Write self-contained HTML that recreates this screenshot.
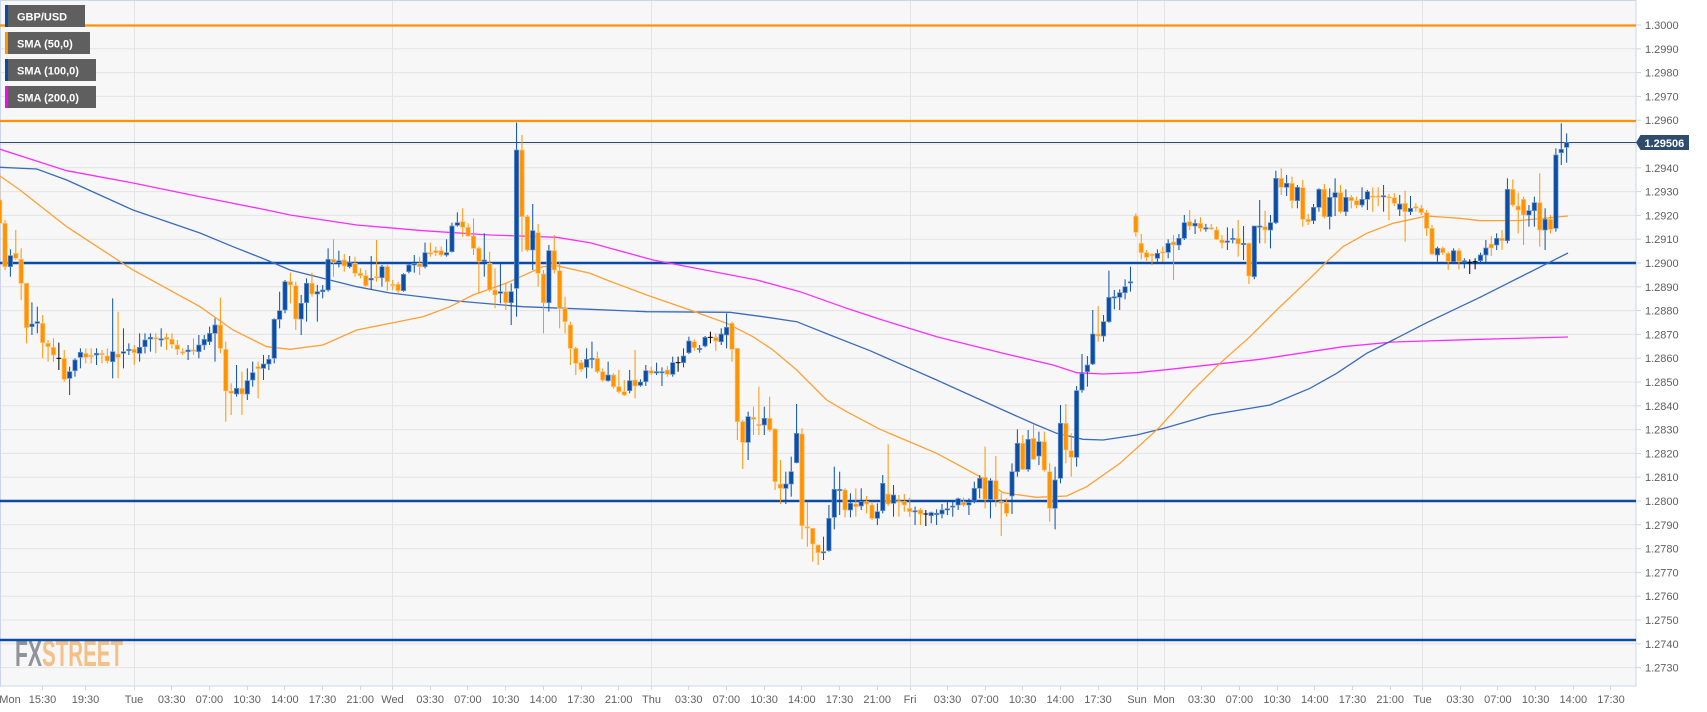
<!DOCTYPE html>
<html><head><meta charset="utf-8"><style>
html,body{margin:0;padding:0;background:#fff;}
svg{display:block;}
text{font-family:"Liberation Sans",Arial,sans-serif;}
</style></head><body>
<svg id="svg" xmlns="http://www.w3.org/2000/svg" width="1707" height="712" viewBox="0 0 1707 712">
<defs><clipPath id="clip"><rect x="0" y="0" width="1636" height="686"/></clipPath></defs>
<rect x="0" y="0" width="1707" height="712" fill="#fff"/>
<rect x="0.5" y="0.5" width="1635.5" height="685.5" fill="#f7f7f7" stroke="#ccd6eb" stroke-width="1"/>
<g stroke="#e4e4e4" stroke-width="1">
<line x1="1" x2="1636" y1="25" y2="25"/><line x1="1" x2="1636" y1="48.8" y2="48.8"/><line x1="1" x2="1636" y1="72.6" y2="72.6"/><line x1="1" x2="1636" y1="96.4" y2="96.4"/><line x1="1" x2="1636" y1="120.2" y2="120.2"/><line x1="1" x2="1636" y1="144" y2="144"/><line x1="1" x2="1636" y1="167.8" y2="167.8"/><line x1="1" x2="1636" y1="191.6" y2="191.6"/><line x1="1" x2="1636" y1="215.4" y2="215.4"/><line x1="1" x2="1636" y1="239.2" y2="239.2"/><line x1="1" x2="1636" y1="263" y2="263"/><line x1="1" x2="1636" y1="286.8" y2="286.8"/><line x1="1" x2="1636" y1="310.6" y2="310.6"/><line x1="1" x2="1636" y1="334.4" y2="334.4"/><line x1="1" x2="1636" y1="358.2" y2="358.2"/><line x1="1" x2="1636" y1="382" y2="382"/><line x1="1" x2="1636" y1="405.8" y2="405.8"/><line x1="1" x2="1636" y1="429.6" y2="429.6"/><line x1="1" x2="1636" y1="453.4" y2="453.4"/><line x1="1" x2="1636" y1="477.2" y2="477.2"/><line x1="1" x2="1636" y1="501" y2="501"/><line x1="1" x2="1636" y1="524.8" y2="524.8"/><line x1="1" x2="1636" y1="548.6" y2="548.6"/><line x1="1" x2="1636" y1="572.4" y2="572.4"/><line x1="1" x2="1636" y1="596.2" y2="596.2"/><line x1="1" x2="1636" y1="620" y2="620"/><line x1="1" x2="1636" y1="643.8" y2="643.8"/><line x1="1" x2="1636" y1="667.6" y2="667.6"/>
<line x1="134.5" x2="134.5" y1="1" y2="686"/><line x1="392.5" x2="392.5" y1="1" y2="686"/><line x1="651.5" x2="651.5" y1="1" y2="686"/><line x1="910.5" x2="910.5" y1="1" y2="686"/><line x1="1137.5" x2="1137.5" y1="1" y2="686"/><line x1="1164.5" x2="1164.5" y1="1" y2="686"/><line x1="1422.5" x2="1422.5" y1="1" y2="686"/>
</g>
<!-- watermark -->
<text x="15" y="666" font-size="36" font-weight="bold" fill="#8f939a" textLength="27" lengthAdjust="spacingAndGlyphs">FX</text>
<text x="42" y="666" font-size="36" font-weight="bold" fill="#f3c087" textLength="81" lengthAdjust="spacingAndGlyphs">STREET</text>
<!-- level lines -->
<g clip-path="url(#clip)">
<line x1="0" x2="1636" y1="25.5" y2="25.5" stroke="#ff9200" stroke-width="2.2"/>
<line x1="0" x2="1636" y1="121" y2="121" stroke="#ff9200" stroke-width="2.2"/>
<line x1="0" x2="1636" y1="142.5" y2="142.5" stroke="#2f4b6e" stroke-width="1.1"/>
<line x1="0" x2="1636" y1="263" y2="263" stroke="#0b4aa6" stroke-width="2.6"/>
<line x1="0" x2="1636" y1="501" y2="501" stroke="#0b4aa6" stroke-width="2.6"/>
<line x1="0" x2="1636" y1="640" y2="640" stroke="#0b4aa6" stroke-width="2.6"/>
<polyline fill="none" stroke="#ff2dff" stroke-width="1.3" points="0,149.3 66.7,170.7 133,183 200,196.7 266.7,210 290,215 356.7,225 423,230.7 490,235 556.7,237.3 590,242.7 653,260 756.7,280 800,291.7 846.7,308.3 880,319.3 936.7,336.7 1003,353.3 1053,365 1076.7,372.7 1103,374 1136.7,372.7 1170,369.3 1260,359.3 1343,346.7 1393,342 1480,339.3 1568,337"/>
<polyline fill="none" stroke="#3a6bbd" stroke-width="1.3" points="0,167.3 36.7,169 66.7,180 133,210 200,233 233,246.7 266.7,260 290,270 356.7,286.7 390,293 456.7,301 523,306.7 590,309.3 646.7,311.7 730,312.3 763,316.7 796.7,321.7 830,335 870,350.7 936.7,380 1003,410 1036.7,425 1056.7,433.3 1083,439.3 1103,440 1136.7,435 1165,428 1210,415 1270,405 1310,388.3 1336.7,373.3 1366.7,353.3 1393,340 1426.7,322.7 1480,297.3 1568,253"/>
<polyline fill="none" stroke="#ffa033" stroke-width="1.3" points="0,176 20,190 66.7,226.7 133,270 200,306.7 233,330 266.7,346.7 290,349.3 323,345 356.7,330 423,316.7 450,306.7 473,295 506.7,283 543,266.7 556.7,265.7 590,273.3 606.7,280 646.7,295 690,310 726.7,323.3 753,336.7 773,350 796.7,370 826.7,400 846.7,411.7 880,429.3 936.7,453.3 980,476.7 1003,492.7 1036.7,497.3 1066.7,496 1086.7,486.7 1120,463.3 1153,433.3 1160,426.7 1193,390 1220,363.3 1250,336.7 1276.7,310 1310,278.3 1326.7,261.7 1343,246.7 1366.7,233.3 1393,223.3 1426.7,216 1460,218.3 1480,220.7 1520,220.5 1568,216"/>
<g id="candles"></g>
</g>
<!-- legend -->
<rect x="5" y="5" width="80" height="22" fill="#5f5f5f"/><rect x="5" y="5" width="3" height="22" fill="#0b4aa6"/>
<text x="17" y="20.5" font-size="11" font-weight="bold" fill="#fff">GBP/USD</text>
<rect x="5" y="32" width="85" height="22" fill="#5f5f5f"/><rect x="5" y="32" width="3" height="22" fill="#ff9200"/>
<text x="17" y="47.5" font-size="11" font-weight="bold" fill="#fff">SMA (50,0)</text>
<rect x="5" y="59" width="91" height="22" fill="#5f5f5f"/><rect x="5" y="59" width="3" height="22" fill="#0b4aa6"/>
<text x="17" y="74.5" font-size="11" font-weight="bold" fill="#fff">SMA (100,0)</text>
<rect x="5" y="86" width="91" height="22" fill="#5f5f5f"/><rect x="5" y="86" width="3" height="22" fill="#ff00ff"/>
<text x="17" y="101.5" font-size="11" font-weight="bold" fill="#fff">SMA (200,0)</text>
<!-- y axis -->
<g stroke="#ccd6eb" stroke-width="1">
<line x1="1636" x2="1641" y1="25" y2="25"/><line x1="1636" x2="1641" y1="48.8" y2="48.8"/><line x1="1636" x2="1641" y1="72.6" y2="72.6"/><line x1="1636" x2="1641" y1="96.4" y2="96.4"/><line x1="1636" x2="1641" y1="120.2" y2="120.2"/><line x1="1636" x2="1641" y1="167.8" y2="167.8"/><line x1="1636" x2="1641" y1="191.6" y2="191.6"/><line x1="1636" x2="1641" y1="215.4" y2="215.4"/><line x1="1636" x2="1641" y1="239.2" y2="239.2"/><line x1="1636" x2="1641" y1="263" y2="263"/><line x1="1636" x2="1641" y1="286.8" y2="286.8"/><line x1="1636" x2="1641" y1="310.6" y2="310.6"/><line x1="1636" x2="1641" y1="334.4" y2="334.4"/><line x1="1636" x2="1641" y1="358.2" y2="358.2"/><line x1="1636" x2="1641" y1="382" y2="382"/><line x1="1636" x2="1641" y1="405.8" y2="405.8"/><line x1="1636" x2="1641" y1="429.6" y2="429.6"/><line x1="1636" x2="1641" y1="453.4" y2="453.4"/><line x1="1636" x2="1641" y1="477.2" y2="477.2"/><line x1="1636" x2="1641" y1="501" y2="501"/><line x1="1636" x2="1641" y1="524.8" y2="524.8"/><line x1="1636" x2="1641" y1="548.6" y2="548.6"/><line x1="1636" x2="1641" y1="572.4" y2="572.4"/><line x1="1636" x2="1641" y1="596.2" y2="596.2"/><line x1="1636" x2="1641" y1="620" y2="620"/><line x1="1636" x2="1641" y1="643.8" y2="643.8"/><line x1="1636" x2="1641" y1="667.6" y2="667.6"/>
</g>
<g font-size="11" fill="#606060">
<text x="1645" y="29">1.3000</text><text x="1645" y="52.8">1.2990</text><text x="1645" y="76.6">1.2980</text><text x="1645" y="100.4">1.2970</text><text x="1645" y="124.2">1.2960</text><text x="1645" y="171.8">1.2940</text><text x="1645" y="195.6">1.2930</text><text x="1645" y="219.4">1.2920</text><text x="1645" y="243.2">1.2910</text><text x="1645" y="267">1.2900</text><text x="1645" y="290.8">1.2890</text><text x="1645" y="314.6">1.2880</text><text x="1645" y="338.4">1.2870</text><text x="1645" y="362.2">1.2860</text><text x="1645" y="386">1.2850</text><text x="1645" y="409.8">1.2840</text><text x="1645" y="433.6">1.2830</text><text x="1645" y="457.4">1.2820</text><text x="1645" y="481.2">1.2810</text><text x="1645" y="505">1.2800</text><text x="1645" y="528.8">1.2790</text><text x="1645" y="552.6">1.2780</text><text x="1645" y="576.4">1.2770</text><text x="1645" y="600.2">1.2760</text><text x="1645" y="624">1.2750</text><text x="1645" y="647.8">1.2740</text><text x="1645" y="671.6">1.2730</text>
</g>
<polygon points="1636,142.5 1640.5,135 1689,135 1689,150 1640.5,150" fill="#2f4b6e"/>
<text x="1644.5" y="146.8" font-size="11" font-weight="bold" fill="#fff">1.29506</text>
<!-- x axis ticks -->
<g stroke="#ccd6eb" stroke-width="1">
<line x1="42.5" x2="42.5" y1="686" y2="690"/><line x1="85.5" x2="85.5" y1="686" y2="690"/><line x1="134.5" x2="134.5" y1="686" y2="690"/><line x1="171.5" x2="171.5" y1="686" y2="690"/><line x1="209.5" x2="209.5" y1="686" y2="690"/><line x1="247.5" x2="247.5" y1="686" y2="690"/><line x1="284.5" x2="284.5" y1="686" y2="690"/><line x1="322.5" x2="322.5" y1="686" y2="690"/><line x1="360.5" x2="360.5" y1="686" y2="690"/><line x1="392.5" x2="392.5" y1="686" y2="690"/><line x1="430.5" x2="430.5" y1="686" y2="690"/><line x1="467.5" x2="467.5" y1="686" y2="690"/><line x1="505.5" x2="505.5" y1="686" y2="690"/><line x1="543.5" x2="543.5" y1="686" y2="690"/><line x1="581.5" x2="581.5" y1="686" y2="690"/><line x1="618.5" x2="618.5" y1="686" y2="690"/><line x1="651.5" x2="651.5" y1="686" y2="690"/><line x1="688.5" x2="688.5" y1="686" y2="690"/><line x1="726.5" x2="726.5" y1="686" y2="690"/><line x1="764.5" x2="764.5" y1="686" y2="690"/><line x1="801.5" x2="801.5" y1="686" y2="690"/><line x1="839.5" x2="839.5" y1="686" y2="690"/><line x1="877.5" x2="877.5" y1="686" y2="690"/><line x1="910.5" x2="910.5" y1="686" y2="690"/><line x1="947.5" x2="947.5" y1="686" y2="690"/><line x1="985.5" x2="985.5" y1="686" y2="690"/><line x1="1022.5" x2="1022.5" y1="686" y2="690"/><line x1="1060.5" x2="1060.5" y1="686" y2="690"/><line x1="1098.5" x2="1098.5" y1="686" y2="690"/><line x1="1137.5" x2="1137.5" y1="686" y2="690"/><line x1="1164.5" x2="1164.5" y1="686" y2="690"/><line x1="1201.5" x2="1201.5" y1="686" y2="690"/><line x1="1239.5" x2="1239.5" y1="686" y2="690"/><line x1="1277.5" x2="1277.5" y1="686" y2="690"/><line x1="1314.5" x2="1314.5" y1="686" y2="690"/><line x1="1352.5" x2="1352.5" y1="686" y2="690"/><line x1="1390.5" x2="1390.5" y1="686" y2="690"/><line x1="1422.5" x2="1422.5" y1="686" y2="690"/><line x1="1460.5" x2="1460.5" y1="686" y2="690"/><line x1="1497.5" x2="1497.5" y1="686" y2="690"/><line x1="1535.5" x2="1535.5" y1="686" y2="690"/><line x1="1573.5" x2="1573.5" y1="686" y2="690"/><line x1="1610.5" x2="1610.5" y1="686" y2="690"/>
</g>
<g font-size="11" fill="#606060" text-anchor="middle">
<text x="10" y="703">Mon</text><text x="42.5" y="703">15:30</text><text x="85.5" y="703">19:30</text><text x="134" y="703">Tue</text><text x="171.7" y="703">03:30</text><text x="209.4" y="703">07:00</text><text x="247.1" y="703">10:30</text><text x="284.8" y="703">14:00</text><text x="322.5" y="703">17:30</text><text x="360.2" y="703">21:00</text><text x="392.5" y="703">Wed</text><text x="430.2" y="703">03:30</text><text x="467.9" y="703">07:00</text><text x="505.6" y="703">10:30</text><text x="543.3" y="703">14:00</text><text x="581" y="703">17:30</text><text x="618.7" y="703">21:00</text><text x="651.5" y="703">Thu</text><text x="688.7" y="703">03:30</text><text x="726.4" y="703">07:00</text><text x="764.1" y="703">10:30</text><text x="801.8" y="703">14:00</text><text x="839.5" y="703">17:30</text><text x="877.2" y="703">21:00</text><text x="910" y="703">Fri</text><text x="947.5" y="703">03:30</text><text x="985" y="703">07:00</text><text x="1022.6" y="703">10:30</text><text x="1060.3" y="703">14:00</text><text x="1098" y="703">17:30</text><text x="1137" y="703">Sun</text><text x="1164" y="703">Mon</text><text x="1201.7" y="703">03:30</text><text x="1239.4" y="703">07:00</text><text x="1277.1" y="703">10:30</text><text x="1314.8" y="703">14:00</text><text x="1352.5" y="703">17:30</text><text x="1390.2" y="703">21:00</text><text x="1422.5" y="703">Tue</text><text x="1460.2" y="703">03:30</text><text x="1497.9" y="703">07:00</text><text x="1535.6" y="703">10:30</text><text x="1573.3" y="703">14:00</text><text x="1611" y="703">17:30</text>
</g>
</svg>
<script>
(function(){
var S=[
[100,0,"o,300,370,220,370 o,370,500,360,510 b,467,500,448,530 o,460,475,390,480 o,478,550,445,600 o,550,683,550,730 b,672,680,607,705 b,665,670,620,700 o,670,728,645,775 o,730,740,720,785 o,742,765,715,785 k,775,775,728,810 o,775,838,750,845 b,815,835,800,885 b,780,812,775,830 b,757,772,745,805 o,760,772,745,790 o,766,770,745,790 b,760,765,745,795 o,760,764,750,790 o,768,783,745,790 b,755,785,595,835 o,762,772,635,835 b,755,760,685,805 b,748,752,730,765 o,748,758,735,795 b,742,760,700,785 b,720,740,700,760 b,712,717,700,755 o,713,717,700,760 b,716,720,685,740 o,712,718,700,750 o,718,733,700,745 o,735,748,720,765 o,755,759,745,765 b,750,755,735,780 o,750,754,715,765 b,735,755,705,775 b,718,735,705,750 b,700,725,680,735 b,675,700,655,785 o,675,745,593,760 o,748,873,725,965 o,873,880,850,945 b,865,882,795,890 o,865,882,815,945 b,842,882,805,900 b,818,840,785,860 o,800,806,785,895 b,792,805,765,840 b,778,792,765,810 b,658,775,655,790 b,632,658,575,685 b,545,630,540,640 o,545,555,518,610 o,557,657,545,690"],
[100,56,"b,610,657,585,705 b,550,608,535,665 o,550,582,518,590 b,575,582,555,665 b,570,575,555,595 b,478,570,445,575 o,478,487,418,530 b,482,487,452,502 o,480,498,462,515 b,488,500,468,505 o,490,520,470,530 o,520,527,505,535 o,527,557,510,560 b,535,540,468,570 o,530,533,420,545 b,500,533,495,560 o,500,545,495,572 o,553,556,540,570 o,553,572,545,580 b,523,572,520,575 b,495,515,492,520 b,490,495,465,518 o,490,500,470,525 b,458,500,428,505 o,458,462,428,470 o,452,458,440,468 o,452,465,440,470 b,458,465,418,470 b,378,455,368,457 b,368,376,337,380 o,365,382,325,410 o,382,408,370,410 o,408,445,355,465 o,445,485,440,580 b,480,485,400,530 o,490,570,455,575 o,570,585,505,625 b,575,580,490,610 o,575,608,550,630 b,575,608,550,675 b,150,565,68,650 o,150,350,105,455 o,350,450,345,455 b,392,450,312,510 o,398,520,372,560 o,522,608,510,700 b,452,608,435,635 o,452,510,405,520 o,512,625,485,685 o,625,665,590,700 o,675,745,665,795 o,745,790,740,825"],
[280,108,"o,248,268,240,275 b,238,262,205,295 b,235,238,185,265 o,235,275,215,280 o,275,300,265,305 b,285,302,245,305 o,285,320,280,325 o,320,335,270,340 o,335,345,300,348 b,302,332,270,340 o,300,318,210,355 b,306,316,298,320 b,272,305,255,318 o,272,280,260,285 b,275,279,248,285 b,275,278,262,318 o,270,283,258,290 b,248,283,230,290 k,248,248,230,275 b,228,248,205,262 b,183,218,170,222 o,185,203,178,212 b,205,208,195,218 b,172,198,168,202 k,172,172,155,190 o,172,183,160,212 b,162,185,145,195 b,142,165,100,205 o,130,208,125,245 o,205,425,205,480 o,425,487,420,567 b,410,487,395,540 o,412,418,380,465 o,433,437,320,465 b,415,435,380,465 o,415,450,350,455 o,447,605,445,630 o,612,625,540,672 b,612,625,575,672 b,575,612,530,650 b,460,548,372,550 o,462,737,445,778 o,740,744,668,800 o,745,792,745,845 o,795,818,795,855 b,815,818,770,840 b,715,812,675,815 b,628,712,560,748 b,628,632,575,705 o,630,690,625,712 b,670,690,640,712 o,672,680,625,710 b,665,678,625,690 o,665,672,648,700"],
[200,162,"o,915,955,905,960 b,935,955,910,975 b,850,932,825,940 o,882,912,733,918 b,885,910,855,950 o,903,907,885,950 o,905,915,882,935 o,925,935,893,950 b,932,935,920,975 o,930,942,925,975 k,942,942,930,978 b,938,947,935,970 b,940,944,928,975 b,930,942,912,955 b,926,930,905,945 b,918,920,905,950 b,896,915,893,930 o,906,915,893,920 b,908,915,895,945 b,865,903,845,910 b,835,865,825,895 o,832,898,740,925 b,842,898,835,955 o,842,898,768,920 o,905,910,880,1008 o,910,940,895,950 b,815,888,790,942 b,730,815,688,830 o,730,808,705,810 b,718,808,690,815 o,715,778,672,780 b,725,768,695,795 o,725,810,695,815 o,815,925,790,965 b,840,925,800,988 b,670,835,615,850 o,670,750,612,790 o,752,772,700,830 b,572,772,558,800 b,520,570,462,578 b,495,515,468,560 b,402,492,330,495 o,402,408,318,425 b,365,408,345,425 b,292,365,212,368 b,290,294,270,328 b,278,292,268,330 b,260,278,238,298 b,245,249,200,275 o,48,97,40,110 o,130,158,102,178 o,158,172,150,182 o,163,167,160,196 b,160,175,148,185 o,155,159,140,185 b,130,157,118,175"],
[130,218,"o,336,345,315,450 b,325,345,312,360 b,278,325,255,330 o,275,288,240,300 b,280,288,268,312 o,280,295,262,305 b,293,297,282,305 o,293,297,282,300 o,300,328,290,330 o,330,338,315,355 b,333,337,292,360 b,325,328,295,340 o,325,342,270,380 b,340,344,288,390 o,340,438,338,462 b,288,440,288,448 b,288,292,210,340 o,290,300,242,340 b,278,300,255,355 b,145,278,122,282 o,145,172,115,195 b,160,172,135,198 o,160,212,140,235 b,172,212,165,235 o,173,268,150,290 o,268,275,252,285 b,232,272,222,282 b,178,232,175,245 o,178,260,162,265 b,202,260,175,298 b,188,202,145,258 o,188,245,165,250 b,202,245,178,258 o,202,212,195,235 o,212,225,200,235 b,208,225,172,232 b,185,208,180,240 o,198,202,172,245 o,198,202,172,228 b,197,200,165,245 o,200,203,192,270 o,203,220,190,228 b,222,238,195,258 o,220,245,182,335 b,235,245,198,255 o,230,234,220,245 o,235,248,225,255 o,248,295,240,318 o,295,372,285,375 b,355,375,350,395 o,355,368,350,375 o,370,395,365,420 b,362,395,355,402 o,362,395,355,418 b,392,395,385,415 k,397,397,388,432 k,395,395,385,418 b,375,392,368,398"],
[0,276,"b,744,765,720,786 o,732,744,708,768 b,715,735,700,750 o,715,722,690,750 b,568,722,535,730 o,568,615,538,620 o,618,630,578,700 o,598,645,590,735 b,632,645,615,680 b,608,632,590,680 o,608,690,520,740 b,658,690,625,750 o,658,688,645,700 b,465,685,445,695 b,448,458,370,495 b,428,442,400,488"]
];
var NS="http://www.w3.org/2000/svg";
var g=document.getElementById("candles");
function el(n,a){var e=document.createElementNS(NS,n);for(var k in a)e.setAttribute(k,a[k]);g.appendChild(e);return e;}
for(var s=0;s<S.length;s++){
 var off=S[s][0],k0=S[s][1],arr=S[s][2].trim().split(/\s+/);
 for(var i=0;i<arr.length;i++){
  var p=arr[i].split(","),t=p[0];
  var a=[off+p[1]/3,off+p[2]/3,off+p[3]/3,off+p[4]/3];
  var k=k0+i,cx=-0.385+5.385*k;
  var col=t=="b"?"#0c4ea4":(t=="o"?"#ff9400":"#000");
  var lc=t=="b"?"#6b95d2":(t=="o"?"#ffc27a":"#000");
  el("line",{x1:cx,x2:cx,y1:a[2],y2:a[3],stroke:col,"stroke-width":1});
  if(t=="k"){el("line",{x1:cx-2.4,x2:cx+2.4,y1:a[0],y2:a[0],stroke:"#000","stroke-width":1});}
  else{var h=Math.max(a[1]-a[0],1.2);el("rect",{x:cx-2.2,y:a[0],width:4.4,height:h,fill:col,stroke:lc,"stroke-width":0.7});}
 }
}
})();
</script>
</body></html>
